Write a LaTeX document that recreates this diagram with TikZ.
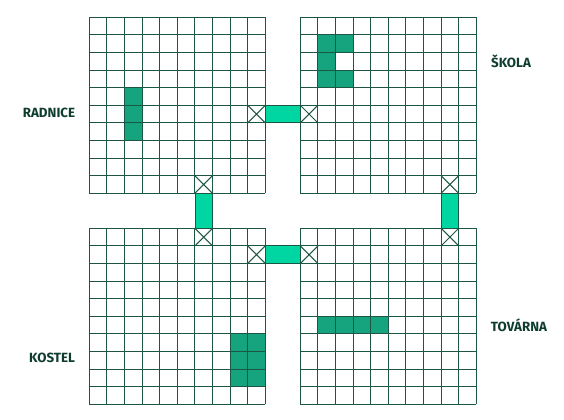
\documentclass[tikz,border=0pt]{standalone}
\usepackage{fontspec}
\setmainfont{Fira Sans}
\definecolor{gline}{HTML}{1D5643}
\definecolor{bfill}{HTML}{15A47E}
\definecolor{bridgefill}{HTML}{00D6A2}
\definecolor{txt}{HTML}{0E3D30}
\newcommand\cityGrid[2]{%
  \foreach \i in {0,...,10}{%
    \draw[gridline] ({#1+\i*17.6},{#2}) -- ({#1+\i*17.6},{#2+176});
    \draw[gridline] ({#1},{#2+\i*17.6}) -- ({#1+176},{#2+\i*17.6});
  }}
\newcommand\bcell[4]{\fill[bfill] ({#1+#3*17.6},{#2+#4*17.6}) rectangle ++(17.6,17.6);}
\newcommand\xcell[4]{\draw[gridline] ({#1+#3*17.6},{#2+#4*17.6}) -- ++(17.6,17.6) ({#1+#3*17.6+17.6},{#2+#4*17.6}) -- ++(-17.6,17.6);}
\begin{document}
\begin{tikzpicture}[x=0.75pt,y=-0.75pt,
  gridline/.style={draw=gline,line width=0.75pt},
  bridgebox/.style={fill=bridgefill,draw=gline,line width=0.6pt},
  label/.style={text=txt,font=\fontsize{10}{12}\selectfont\bfseries,inner sep=0pt}]
\useasboundingbox (0,0) rectangle (564,420);
% building cells
\foreach \r in {4,5,6}{\bcell{89.3}{17.3}{2}{\r}}
\bcell{300.3}{17.3}{1}{1}\bcell{300.3}{17.3}{2}{1}\bcell{300.3}{17.3}{1}{2}\bcell{300.3}{17.3}{1}{3}\bcell{300.3}{17.3}{2}{3}
\foreach \cc in {1,2,3,4}{\bcell{300.3}{228.3}{\cc}{5}}
\foreach \r in {6,7,8}{\bcell{89.3}{228.3}{8}{\r}\bcell{89.3}{228.3}{9}{\r}}
% bridges
\draw[bridgebox] (265.3,105.3) rectangle (300.3,122.9);
\draw[bridgebox] (265.3,245.9) rectangle (300.3,263.5);
\draw[bridgebox] (194.9,193.3) rectangle (212.5,228.3);
\draw[bridgebox] (441.1,193.3) rectangle (458.7,228.3);
% grids
\cityGrid{89.3}{17.3}
\cityGrid{300.3}{17.3}
\cityGrid{89.3}{228.3}
\cityGrid{300.3}{228.3}
% crossings
\xcell{89.3}{17.3}{9}{5}
\xcell{300.3}{17.3}{0}{5}
\xcell{89.3}{17.3}{6}{9}
\xcell{89.3}{228.3}{6}{0}
\xcell{300.3}{17.3}{8}{9}
\xcell{300.3}{228.3}{8}{0}
\xcell{89.3}{228.3}{9}{1}
\xcell{300.3}{228.3}{0}{1}
% labels
\node[label] (radnice) at (49,113) {RADNICE};
\node[label] (skola) at (511,61) {ŠKOLA};
\node[label] (tovarna) at (519,325) {TOVÁRNA};
\node[label] (kostel) at (52,358) {KOSTEL};
\end{tikzpicture}
\end{document}
